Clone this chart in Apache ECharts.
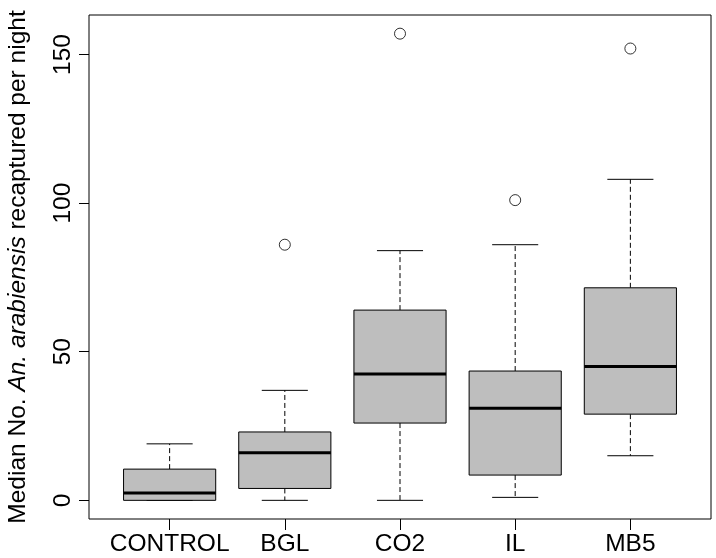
<!DOCTYPE html>
<html>
<head>
<meta charset="utf-8">
<script src="https://cdn.jsdelivr.net/npm/echarts@6/dist/echarts.min.js"></script>
<style>
html,body{margin:0;padding:0;background:#fff;}
#chart{width:716px;height:558px;}
</style>
</head>
<body>
<div id="chart"></div>
<script>
// ---- data ----
const categories = ['CONTROL', 'BGL', 'CO2', 'IL', 'MB5'];
const whiskerLow  = [0, 0, 0, 1, 15];
const q1Values    = [0, 4, 26, 8.5, 29];
const medians     = [2.5, 16, 42.5, 31, 45];
const q3Values    = [10.5, 23, 64, 43.5, 71.5];
const whiskerHigh = [19, 37, 84, 86, 108];
const outlierGroup  = [2, 3, 4, 5];
const outlierValues = [86, 157, 101, 152];
const yTicks = [0, 50, 100, 150];
const xTicks = [1, 2, 3, 4, 5];

// ---- build ----
const boxData = categories.map((c, i) => [i + 1, whiskerLow[i], q1Values[i], medians[i], q3Values[i], whiskerHigh[i]]);
const outlierData = outlierGroup.map((g, i) => [g, outlierValues[i]]);

const FONT = 'Liberation Sans, Arial, Helvetica, sans-serif';
const FS = 24.5;

function renderBox(params, api) {
  const x = api.value(0);
  const pMin = api.coord([x, api.value(1)]);
  const pQ1 = api.coord([x, api.value(2)]);
  const pMed = api.coord([x, api.value(3)]);
  const pQ3 = api.coord([x, api.value(4)]);
  const pMax = api.coord([x, api.value(5)]);
  const boxW = api.size([0.8, 0])[0];
  const capW = boxW / 2;
  const cx = pMed[0];
  const solid = { stroke: '#000', lineWidth: 1, fill: null };
  const dashed = { stroke: '#000', lineWidth: 1, lineDash: [5, 3], fill: null };
  return {
    type: 'group',
    children: [
      { type: 'line', shape: { x1: cx, y1: pQ3[1], x2: cx, y2: pMax[1] }, style: dashed },
      { type: 'line', shape: { x1: cx, y1: pQ1[1], x2: cx, y2: pMin[1] }, style: dashed },
      { type: 'line', shape: { x1: cx - capW / 2, y1: pMax[1], x2: cx + capW / 2, y2: pMax[1] }, style: solid },
      { type: 'line', shape: { x1: cx - capW / 2, y1: pMin[1], x2: cx + capW / 2, y2: pMin[1] }, style: solid },
      { type: 'rect', shape: { x: cx - boxW / 2, y: pQ3[1], width: boxW, height: pQ1[1] - pQ3[1] },
        style: { fill: '#bebebe', stroke: '#000', lineWidth: 1 } },
      { type: 'line', shape: { x1: cx - boxW / 2, y1: pMed[1], x2: cx + boxW / 2, y2: pMed[1] },
        style: { stroke: '#000', lineWidth: 3 } }
    ]
  };
}

const chart = echarts.init(document.getElementById('chart'), null, { renderer: 'canvas' });
chart.setOption({
  animation: false,
  backgroundColor: '#fff',
  grid: {
    left: 89, right: 5, top: 15, bottom: 39,
    show: true, borderColor: '#000', borderWidth: 1,
    containLabel: false, outerBoundsMode: 'none'
  },
  xAxis: {
    type: 'value', min: 0.3, max: 5.7,
    splitLine: { show: false },
    axisLine: { show: false, onZero: false },
    axisTick: { show: true, length: 11, customValues: xTicks, lineStyle: { color: '#000' } },
    axisLabel: {
      customValues: xTicks, margin: 13,
      formatter: v => categories[Math.round(v) - 1] || '',
      color: '#000', fontSize: FS, fontFamily: FONT
    }
  },
  yAxis: {
    type: 'value', min: -6.28, max: 163.28,
    splitLine: { show: false },
    axisLine: { show: false, onZero: false },
    axisTick: { show: true, length: 10, customValues: yTicks, lineStyle: { color: '#000' } },
    axisLabel: {
      customValues: yTicks, rotate: 90, margin: 13,
      color: '#000', fontSize: FS, fontFamily: FONT
    },
    name: '{n|Median No. }{i|An. arabiensis}{n| recaptured per night}',
    nameLocation: 'middle', nameRotate: 90, nameGap: 58,
    nameTextStyle: {
      color: '#000', fontSize: FS, fontFamily: FONT,
      rich: {
        n: { fontSize: FS, fontFamily: FONT, color: '#000' },
        i: { fontSize: FS, fontFamily: FONT, fontStyle: 'italic', color: '#000' }
      }
    }
  },
  series: [
    {
      type: 'custom',
      renderItem: renderBox,
      encode: { x: 0, y: [1, 2, 3, 4, 5] },
      data: boxData,
      z: 2
    },
    {
      type: 'scatter',
      data: outlierData,
      symbol: 'circle', symbolSize: 11,
      itemStyle: { color: 'rgba(0,0,0,0)', borderColor: '#000', borderWidth: 1 },
      z: 3
    }
  ]
});
</script>
</body>
</html>
